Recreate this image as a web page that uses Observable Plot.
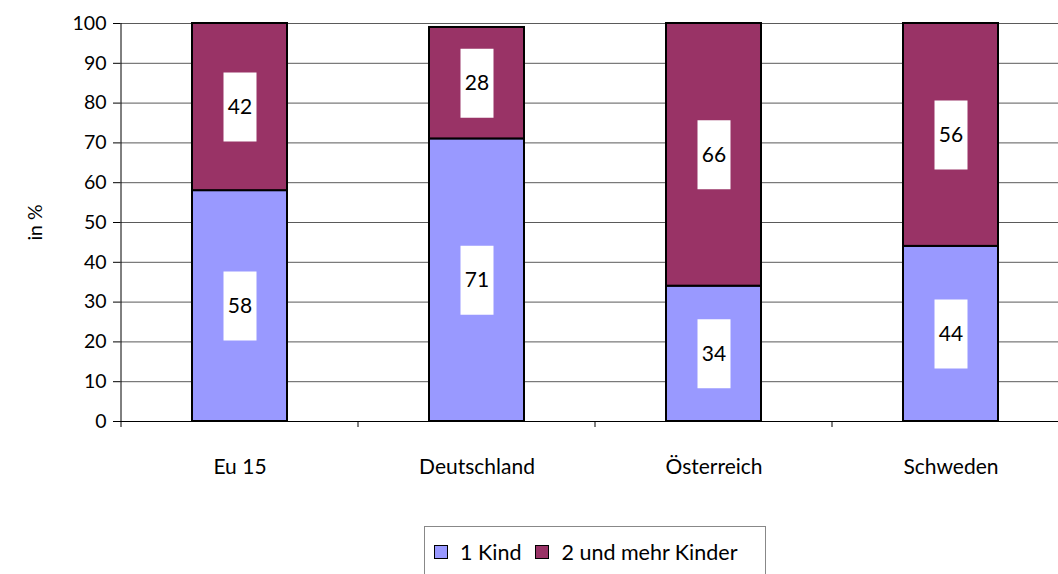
<!DOCTYPE html>
<html><head><meta charset="utf-8">
<script src="https://cdn.jsdelivr.net/npm/d3@7"></script>
<script src="https://cdn.jsdelivr.net/npm/@observablehq/plot@0.6"></script>
<style>
body{margin:0;background:#fff;font-family:Lato,"Open Sans",sans-serif;}
#legend{margin-left:424px;margin-top:6px;width:342px;height:54px;border:1px solid #888;border-bottom:none;box-sizing:border-box;padding-left:9px;padding-bottom:4px;font-size:21.5px;color:#000;display:flex;align-items:center;}
#legend .item{display:inline-flex;align-items:center;margin-right:14px;}
#legend .sw{width:12px;height:12px;border:1.5px solid #000;margin-right:12px;display:inline-block;}
</style></head><body>
<div id="chart"></div>
<div id="legend"></div>
<script>
const categories = ["Eu 15", "Deutschland", "Österreich", "Schweden"];
const series = ["1 Kind", "2 und mehr Kinder"];
const einKind = [58, 71, 34, 44];
const zweiUndMehr = [42, 28, 66, 56];
const yTicks = [0, 10, 20, 30, 40, 50, 60, 70, 80, 90, 100];
const colors = ["#9999FF", "#993366"];

const values = [einKind, zweiUndMehr];
const data = [];
series.forEach((s, si) => categories.forEach((c, ci) => data.push({category: c, series: s, value: values[si][ci]})));

const box = {draw(ctx) { ctx.rect(-16.5, -34.5, 33, 69); }};

const plot = Plot.plot({
  width: 1058,
  height: 520,
  marginLeft: 120,
  marginRight: 0,
  marginTop: 23,
  marginBottom: 99,
  style: {fontFamily: "Lato, 'Open Sans', sans-serif", fontSize: "19px", color: "#000", background: "#fff"},
  x: {domain: categories, range: [120, 1070], paddingInner: 0.6, paddingOuter: 0.3},
  y: {domain: [0, 100]},
  color: {domain: series, range: colors},
  marks: [
    Plot.ruleY(yTicks.filter(d => d > 0), {stroke: "#5a5a5a", strokeWidth: 1}),
    Plot.barY(data, {x: "category", y: "value", fill: "series", stroke: "#000", strokeWidth: 2}),
    Plot.dot(data, Plot.stackY({x: "category", y: "value", z: "series", symbol: box, fill: "#fff", stroke: null, r: 1})),
    Plot.text(data, Plot.stackY({x: "category", y: "value", z: "series", text: d => String(d.value), fontSize: 21, fill: "#000"})),
    Plot.ruleY([0], {stroke: "#000", strokeWidth: 1}),
    Plot.axisY({ticks: yTicks, tickSize: 7, tickPadding: 7, fontSize: 19.5, label: "in %", labelAnchor: "center", labelOffset: 92, labelArrow: "none"}),
    Plot.axisX({tickSize: 0, tickPadding: 38, fontSize: 21, label: null})
  ]
});
document.getElementById("chart").appendChild(plot);

// axis line and category boundary ticks, from the plot's own scales
const xs = plot.scale("x");
const ys = plot.scale("y");
const svg = d3.select(plot);
const y0 = ys.apply(0), y100 = ys.apply(100);
const gap = (xs.step - xs.bandwidth) / 2;
const bounds = categories.map(c => xs.apply(c) - gap);
svg.append("line").attr("x1", bounds[0]).attr("x2", bounds[0]).attr("y1", y100).attr("y2", y0 + 6).attr("stroke", "#000");
bounds.slice(1).forEach(b => svg.append("line").attr("x1", b).attr("x2", b).attr("y1", y0).attr("y2", y0 + 6).attr("stroke", "#000"));

const legend = document.getElementById("legend");
series.forEach((s, i) => {
  const it = document.createElement("span");
  it.className = "item";
  it.innerHTML = `<span class="sw" style="background:${colors[i]}"></span>${s}`;
  legend.appendChild(it);
});
</script>
</body></html>
